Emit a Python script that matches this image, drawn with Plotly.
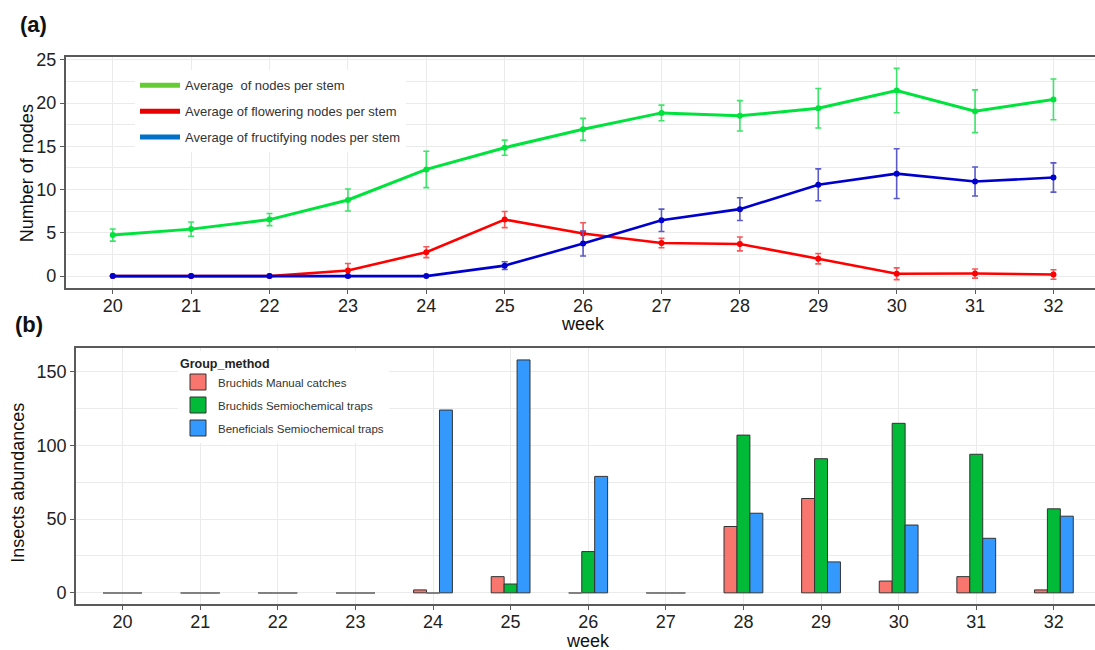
import plotly.graph_objects as go

# ---------------- data ----------------
weeks = [20, 21, 22, 23, 24, 25, 26, 27, 28, 29, 30, 31, 32]

nodes_mean = [4.74, 5.43, 6.53, 8.80, 12.33, 14.84, 16.96, 18.86, 18.52, 19.39, 21.44, 19.05, 20.42]
nodes_err = [0.70, 0.83, 0.70, 1.27, 2.10, 0.87, 1.27, 0.90, 1.76, 2.28, 2.56, 2.47, 2.36]

flower_mean = [0, 0, 0, 0.65, 2.77, 6.53, 4.93, 3.83, 3.72, 2.01, 0.27, 0.30, 0.19]
flower_err = [0, 0, 0, 0.80, 0.63, 0.93, 1.23, 0.55, 0.80, 0.60, 0.68, 0.53, 0.55]

fruit_mean = [0, 0, 0, 0, 0, 1.21, 3.76, 6.45, 7.74, 10.55, 11.84, 10.93, 11.39]
fruit_err = [0, 0, 0, 0, 0, 0.45, 1.44, 1.29, 1.31, 1.84, 2.87, 1.67, 1.69]

line_names = ["Average  of nodes per stem",
              "Average of flowering nodes per stem",
              "Average of fructifying nodes per stem"]

bruchid_manual = [0, 0, 0, 0, 2, 11, 0, 0, 45, 64, 8, 11, 2]
bruchid_semio = [0, 0, 0, 0, 0, 6, 28, 0, 107, 91, 115, 94, 57]
benef_semio = [0, 0, 0, 0, 124, 158, 79, 0, 54, 21, 46, 37, 52]
bar_names = ["Bruchids Manual catches",
             "Bruchids Semiochemical traps",
             "Beneficials Semiochemical traps"]

# ---------------- styles ----------------
W, H = 1095, 650
FONT = "Liberation Sans, Arial, sans-serif"
line_cols = ["#00E23C", "#FF0000", "#0000CD"]
err_cols = ["#3DE36A", "#F25A5A", "#5A5AC8"]
legend_line_cols = ["#66CC33", "#E60000", "#0070C8"]
bar_cols = ["#F8766D", "#00BA38", "#3399FF"]
GRID = "#EBEBEB"
AXLINE = "#5A5A5A"

fig = go.Figure()

# top panel lines
for mean, err, lc, ec in zip([nodes_mean, flower_mean, fruit_mean],
                             [nodes_err, flower_err, fruit_err],
                             line_cols, err_cols):
    fig.add_trace(go.Scatter(
        x=weeks, y=mean, mode="lines+markers",
        line=dict(color=lc, width=3 if lc == line_cols[0] else 2.6),
        marker=dict(color=lc, size=6),
        error_y=dict(type="data", array=err, visible=True, color=ec,
                     thickness=1.6, width=3),
        showlegend=False, xaxis="x", yaxis="y"))

# legend-only entries for top panel
for i, (name, c) in enumerate(zip(line_names, legend_line_cols)):
    fig.add_trace(go.Scatter(
        x=[None], y=[None], mode="lines", name=name, legendgroup=f"a{i}",
        line=dict(color=c, width=5), legend="legend",
        xaxis="x", yaxis="y"))

# bottom panel bars
for vals, c, name in zip([bruchid_manual, bruchid_semio, benef_semio], bar_cols, bar_names):
    fig.add_trace(go.Bar(
        x=weeks, y=vals, name=name, marker=dict(color=c, line=dict(color="#333333", width=1)),
        showlegend=False, xaxis="x2", yaxis="y2", offsetgroup=name))

# zero-height bars drawn as flat outlines (as ggplot does)
group_w = 0.5
series = [bruchid_manual, bruchid_semio, benef_semio]
bw = group_w / len(series)
zx, zy = [], []
for i, vals in enumerate(series):
    for wk, v in zip(weeks, vals):
        if v == 0:
            x0 = wk - group_w / 2 + i * bw
            zx += [x0, x0 + bw, None]
            zy += [0, 0, None]
fig.add_trace(go.Scatter(x=zx, y=zy, mode="lines", line=dict(color="#808080", width=1.6),
                         showlegend=False, hoverinfo="skip", xaxis="x2", yaxis="y2"))

# legend-only entries for bottom panel
for i, (name, c) in enumerate(zip(bar_names, bar_cols)):
    fig.add_trace(go.Scatter(
        x=[None], y=[None], mode="markers", name=name, legendgroup=f"b{i}",
        marker=dict(symbol="square", size=16, color=c, line=dict(color="#333333", width=1)),
        legend="legend2", xaxis="x2", yaxis="y2"))

# ---------------- layout ----------------
tickfont = dict(family=FONT, size=18, color="#222222")
common_x = dict(range=[19.4, 32.53], tickmode="array", tickvals=weeks,
                ticktext=[str(w) for w in weeks], showgrid=True, gridcolor=GRID,
                gridwidth=1.2, zeroline=False, showline=True, linecolor=AXLINE,
                linewidth=1.6, mirror=True, ticks="outside", ticklen=4,
                tickcolor=AXLINE, tickfont=tickfont, ticklabelstandoff=-4)
common_y = dict(showgrid=True, gridcolor=GRID, gridwidth=1.2, zeroline=False,
                showline=True, linecolor=AXLINE, linewidth=1.6, ticks="outside",
                ticklen=4, tickcolor=AXLINE, tickfont=tickfont)

x1 = dict(common_x, domain=[65.7 / W, 1.0], anchor="y")
y1 = dict(common_y, domain=[1 - 284.3 / H, 1 - 50.7 / H], anchor="x",
          range=[-1.4, 25.3], tickvals=[0, 5, 10, 15, 20, 25])
y1["minor"] = dict(showgrid=True, gridcolor=GRID, gridwidth=1.2,
                   tickvals=[2.5, 7.5, 12.5, 17.5, 22.5])
x2 = dict(common_x, domain=[76 / W, 1.0], anchor="y2")
y2 = dict(common_y, domain=[1 - 604 / H, 1 - 345 / H], anchor="x2",
          range=[-7.9, 165.9], tickvals=[0, 50, 100, 150])
y2["minor"] = dict(showgrid=True, gridcolor=GRID, gridwidth=1.2,
                   tickvals=[25, 75, 125])

fig.update_layout(
    width=W, height=H, margin=dict(l=0, r=0, t=0, b=0),
    paper_bgcolor="white", plot_bgcolor="white",
    font=dict(family=FONT, color="#222222"),
    xaxis=x1, yaxis=y1, xaxis2=x2, yaxis2=y2,
    barmode="group", bargap=0.5, bargroupgap=0,
    legend=dict(x=135 / W, y=1 - 64 / H, xanchor="left", yanchor="top",
                bgcolor="white", borderwidth=0, tracegroupgap=6,
                font=dict(family=FONT, size=13, color="#333333"),
                itemwidth=40),
    legend2=dict(x=178 / W, y=1 - 348 / H, xanchor="left", yanchor="top",
                 bgcolor="white", borderwidth=0, tracegroupgap=4,
                 title=dict(text="<b>Group_method</b>",
                            font=dict(family=FONT, size=12.5, color="#222222")),
                 font=dict(family=FONT, size=11.5, color="#333333"),
                 itemwidth=30),
    showlegend=True,
)

ann = [
    dict(text="<b>(a)</b>", x=33 / W, y=1 - 18 / H, size=22),
    dict(text="<b>(b)</b>", x=29 / W, y=1 - 321 / H, size=22),
    dict(text="week", x=583 / W, y=1 - 320 / H, size=18),
    dict(text="week", x=588 / W, y=1 - 641 / H, size=18),
]
for a in ann:
    fig.add_annotation(text=a["text"], x=a["x"], y=a["y"], xref="paper", yref="paper",
                       xanchor="center", yanchor="middle", showarrow=False,
                       font=dict(family=FONT, size=a["size"], color="#111111"))
for txt, xx, yy in [("Number of nodes", 27, 168), ("Insects abundances", 18, 481)]:
    fig.add_annotation(text=txt, x=xx / W, y=1 - yy / H, xref="paper", yref="paper",
                       xanchor="center", yanchor="middle", showarrow=False, textangle=-90,
                       font=dict(family=FONT, size=18, color="#111111"))

fig.write_html("out.html", config={"displayModeBar": False},
               post_script="document.documentElement.style.margin='0';"
                           "document.body.style.margin='0';"
                           "document.body.style.overflow='hidden';")
